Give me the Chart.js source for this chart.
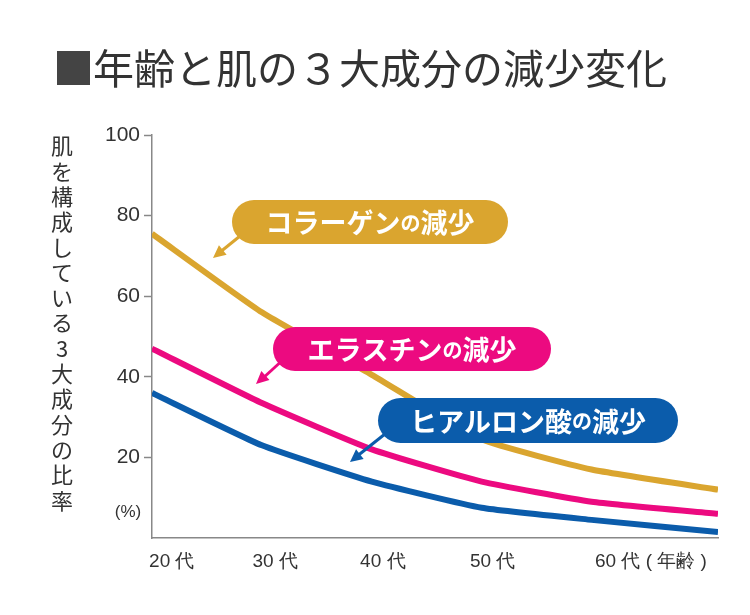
<!DOCTYPE html>
<html><head><meta charset="utf-8">
<script src="https://cdn.jsdelivr.net/npm/chart.js@4/dist/chart.umd.min.js"></script>
<style>html,body{margin:0;padding:0;background:#fff}#w{width:750px;height:615px}</style>
</head><body><div id="w"><canvas id="c"></canvas></div>
<script>
const ages = [20, 30, 40, 50, 60, 71.5];
const collagen = [75.5, 56, 40.5, 24.5, 17, 12];
const elastin = [47, 33.5, 22, 14, 9, 6];
const hyaluronic = [36, 23, 14, 7.5, 4.5, 1.5];
const xTickPos = [21.8, 31.2, 41, 51, 65.4];
const xTickLabels = ['20 代', '30 代', '40 代', '50 代', '60 代 ( 年齢 )'];
const yTicks = [20, 40, 60, 80, 100];
const seriesNames = ['コラーゲン', 'エラスチン', 'ヒアルロン酸'];
const colors = ['#DAA52F', '#EC0A80', '#0B5CAB'];
const FONT = '"Liberation Sans", Arial, sans-serif';
const JFONT = '"Noto Sans CJK JP", sans-serif';

const mk = (d) => d.map((v, i) => ({x: ages[i], y: v}));
const overlay = {
  id: 'overlay',
  afterDraw(ch) {
    const c = ch.ctx;
    c.save();
    c.fillStyle = '#444';
    c.fillRect(57, 51, 33, 34);
    c.fillStyle = '#333';
    c.font = '41px ' + JFONT;
    c.textBaseline = 'middle';
    c.fillText('年齢と肌の３大成分の減少変化', 93, 68);
    const t = '肌を構成している3大成分の比率';
    c.font = '22px ' + JFONT;
    c.textAlign = 'center';
    for (let i = 0; i < t.length; i++) c.fillText(t[i], 62, 146 + i * 25.3);
    c.font = '17px ' + FONT;
    c.fillText('(%)', 128, 512);
    const calls = [
      [232, 200, 508, 244, 245, 232, 213, 258, 0],
      [273, 327, 551, 371, 285, 358, 256, 384, 1],
      [378, 398, 678, 443, 390, 430, 350, 462, 2]
    ];
    calls.forEach(([x1, y1, x2, y2, ax, ay, bx, by, k]) => {
      const col = colors[k];
      c.fillStyle = col;
      const r = (y2 - y1) / 2;
      c.strokeStyle = col; c.lineWidth = 3;
      c.beginPath(); c.moveTo(ax, ay); c.lineTo(bx + 6, by - 5); c.stroke();
      const ang = Math.atan2(by - ay, bx - ax);
      c.beginPath(); c.moveTo(bx, by);
      c.lineTo(bx - 14 * Math.cos(ang - 0.45), by - 14 * Math.sin(ang - 0.45));
      c.lineTo(bx - 14 * Math.cos(ang + 0.45), by - 14 * Math.sin(ang + 0.45));
      c.closePath(); c.fill();
      c.beginPath(); c.roundRect(x1, y1, x2 - x1, y2 - y1, r); c.fill();
      c.fillStyle = '#fff';
      c.textAlign = 'left';
      const big = 'bold 27px ' + JFONT, small = 'bold 20px ' + JFONT;
      const parts = [[seriesNames[k], big], ['の', small], ['減少', big]];
      let w = 0;
      parts.forEach(p => { c.font = p[1]; w += c.measureText(p[0]).width; });
      let x = (x1 + x2) / 2 - w / 2;
      const cy = (y1 + y2) / 2 + 1;
      parts.forEach(p => { c.font = p[1]; c.fillText(p[0], x, cy); x += c.measureText(p[0]).width; });
    });
    c.restore();
  }
};

new Chart(document.getElementById('c'), {
  type: 'line',
  data: {datasets: [collagen, elastin, hyaluronic].map((d, i) => ({
    data: mk(d), borderColor: colors[i], borderWidth: 6, pointRadius: 0, tension: 0.15, fill: false
  }))},
  options: {
    responsive: true, maintainAspectRatio: false, animation: false,
    layout: {padding: {top: 135, right: 32, left: 0, bottom: 0}},
    plugins: {legend: {display: false}, tooltip: {enabled: false}},
    scales: {
      x: {type: 'linear', min: 20, max: 71.5,
        afterBuildTicks: s => { s.ticks = xTickPos.map(v => ({value: v})); },
        afterFit: s => { s.height = 77; },
        grid: {display: false, drawTicks: false},
        border: {color: '#888', width: 1.5},
        ticks: {padding: 12, maxRotation: 0, autoSkip: false, color: '#333', font: {size: 19, family: FONT},
          callback: (v, i) => xTickLabels[i]}
      },
      y: {min: 0, max: 100,
        afterBuildTicks: s => { s.ticks = yTicks.map(v => ({value: v})); },
        afterFit: s => { s.width = 152; },
        grid: {drawOnChartArea: false, drawTicks: true, tickLength: 8, tickColor: '#888', tickWidth: 1.5},
        border: {color: '#888', width: 1.5},
        ticks: {padding: 4, color: '#333', font: {size: 21, family: FONT}}
      }
    }
  },
  plugins: [overlay]
});
</script></body></html>
